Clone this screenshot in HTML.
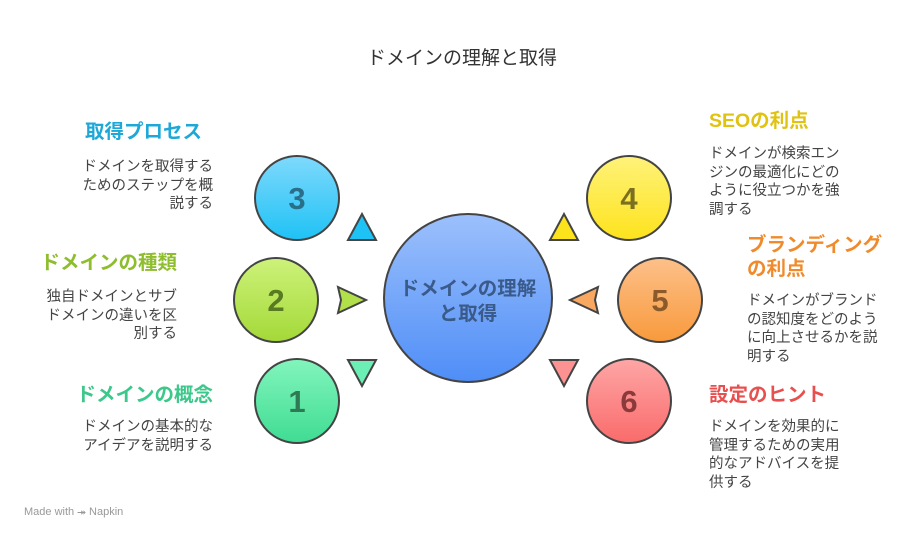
<!DOCTYPE html>
<html><head><meta charset="utf-8"><style>
body{margin:0;width:924px;height:540px;background:#fff;position:relative;overflow:hidden;font-family:"Liberation Sans","Noto Sans CJK JP",sans-serif}
.t{position:absolute;font-weight:bold;font-size:19.5px;line-height:24px;white-space:nowrap}
.b{position:absolute;font-size:14.5px;line-height:18.5px;color:#444;white-space:nowrap}
.r{text-align:right}
</style></head><body>
<svg width="924" height="540" style="position:absolute;left:0;top:0">
<defs>
<linearGradient id="gc" x1="0" y1="0" x2="0" y2="1"><stop offset="0" stop-color="#9cc0fc"/><stop offset="1" stop-color="#4f8ef7"/></linearGradient>
<linearGradient id="g3" x1="0" y1="0" x2="0" y2="1"><stop offset="0" stop-color="#7fd9fc"/><stop offset="1" stop-color="#1fc2f5"/></linearGradient>
<linearGradient id="g2" x1="0" y1="0" x2="0" y2="1"><stop offset="0" stop-color="#cdf27a"/><stop offset="1" stop-color="#a4d938"/></linearGradient>
<linearGradient id="g1" x1="0" y1="0" x2="0" y2="1"><stop offset="0" stop-color="#82f5bd"/><stop offset="1" stop-color="#40dc93"/></linearGradient>
<linearGradient id="g4" x1="0" y1="0" x2="0" y2="1"><stop offset="0" stop-color="#fff27a"/><stop offset="1" stop-color="#fde31c"/></linearGradient>
<linearGradient id="g5" x1="0" y1="0" x2="0" y2="1"><stop offset="0" stop-color="#fdc08a"/><stop offset="1" stop-color="#f89a3c"/></linearGradient>
<linearGradient id="g6" x1="0" y1="0" x2="0" y2="1"><stop offset="0" stop-color="#fea6a6"/><stop offset="1" stop-color="#fa6b6b"/></linearGradient>
</defs>
<g stroke="#444" stroke-width="2">
<circle cx="468" cy="298" r="84" fill="url(#gc)"/>
<circle cx="297" cy="198" r="42" fill="url(#g3)"/>
<circle cx="276" cy="300" r="42" fill="url(#g2)"/>
<circle cx="297" cy="401" r="42" fill="url(#g1)"/>
<circle cx="629" cy="198" r="42" fill="url(#g4)"/>
<circle cx="660" cy="300" r="42" fill="url(#g5)"/>
<circle cx="629" cy="401" r="42" fill="url(#g6)"/>
<polygon points="348,240 376,240 362,214" fill="#1fc2f5"/>
<polygon points="550,240 578,240 564,214" fill="#fde31c"/>
<polygon points="338,287 366,300 338,313 341,300" fill="#b2e04a"/>
<polygon points="598,287 570,300 598,313 595,300" fill="#f9a862"/>
<polygon points="348,360 376,360 362,386" fill="#6cefb4"/>
<polygon points="550,360 578,360 564,386" fill="#fc9292"/>
</g>
<g font-family="Liberation Sans,sans-serif" font-weight="bold" font-size="31" text-anchor="middle">
<text x="297" y="209" fill="#2a6f8a">3</text>
<text x="276" y="311" fill="#5a7a22">2</text>
<text x="297" y="412" fill="#2f7a55">1</text>
<text x="629" y="209" fill="#7a7020">4</text>
<text x="660" y="311" fill="#8a5a2a">5</text>
<text x="629" y="412" fill="#8a3a3a">6</text>
</g>
<g font-family="Liberation Sans,Noto Sans CJK JP,sans-serif" font-weight="bold" font-size="19.5" text-anchor="middle" fill="#3a5a8a">
<text x="468" y="295">ドメインの理解</text>
<text x="468" y="320">と取得</text>
</g>
</svg>
<div class="b" style="left:0;width:924px;top:47px;text-align:center;font-size:19px;line-height:24px;color:#333">ドメインの理解と取得</div>

<div class="t r" style="right:722px;top:120px;color:#1ea8d8">取得プロセス</div>
<div class="b r" style="right:711px;top:158px">ドメインを取得する<br>ためのステップを概<br>説する</div>
<div class="t r" style="right:747px;top:251px;color:#8ebd2e">ドメインの種類</div>
<div class="b r" style="right:747px;top:288px">独自ドメインとサブ<br>ドメインの違いを区<br>別する</div>
<div class="t r" style="right:711px;top:383px;color:#3cc88a">ドメインの概念</div>
<div class="b r" style="right:711px;top:418px">ドメインの基本的な<br>アイデアを説明する</div>

<div class="t" style="left:709px;top:109px;color:#e0c210">SEOの利点</div>
<div class="b" style="left:709px;top:145px">ドメインが検索エン<br>ジンの最適化にどの<br>ように役立つかを強<br>調する</div>
<div class="t" style="left:747px;top:233px;color:#f08a2a">ブランディング<br>の利点</div>
<div class="b" style="left:747px;top:292px">ドメインがブランド<br>の認知度をどのよう<br>に向上させるかを説<br>明する</div>
<div class="t" style="left:709px;top:383px;color:#e85050">設定のヒント</div>
<div class="b" style="left:709px;top:418px">ドメインを効果的に<br>管理するための実用<br>的なアドバイスを提<br>供する</div>

<div class="b" style="left:24px;top:503px;font-size:11px;color:#999">Made with ⯮ Napkin</div>
</body></html>
